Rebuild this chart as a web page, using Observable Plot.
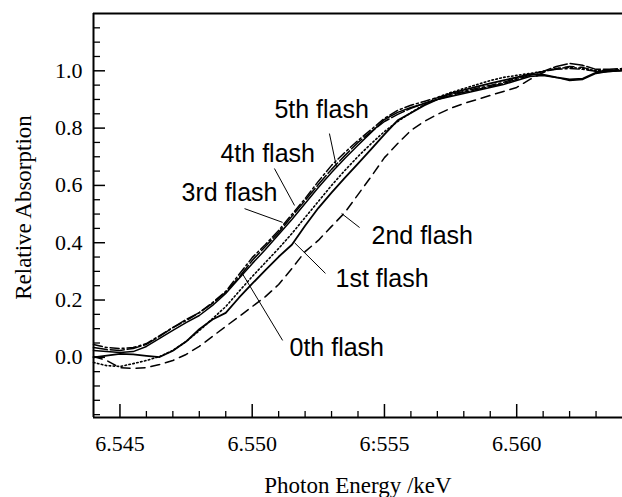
<!DOCTYPE html>
<html><head><meta charset="utf-8">
<script src="https://cdn.jsdelivr.net/npm/d3@7"></script>
<script src="https://cdn.jsdelivr.net/npm/@observablehq/plot@0.6"></script>
<style>html,body{margin:0;padding:0;background:#fff;}</style>
</head><body><div id="chart"></div>
<script>
const energy = [6.5440,6.5445,6.5450,6.5455,6.5460,6.5465,6.5470,6.5475,6.5480,6.5485,6.5490,6.5495,6.5500,6.5505,6.5510,6.5515,6.5520,6.5525,6.5530,6.5535,6.5540,6.5545,6.5550,6.5555,6.5560,6.5565,6.5570,6.5575,6.5580,6.5585,6.5590,6.5595,6.5600,6.5605,6.5610,6.5615,6.5620,6.5625,6.5630,6.5635,6.5640];
const flash0 = [0.024,0.020,0.017,0.020,0.038,0.066,0.094,0.121,0.146,0.181,0.223,0.275,0.327,0.376,0.429,0.481,0.537,0.593,0.645,0.694,0.740,0.785,0.830,0.855,0.872,0.886,0.900,0.910,0.921,0.931,0.942,0.952,0.966,0.980,0.984,0.977,0.966,0.970,0.991,0.998,1.001];
const flash1 = [0.000,0.006,0.012,0.010,0.005,0.001,0.023,0.055,0.098,0.132,0.155,0.208,0.257,0.304,0.351,0.393,0.459,0.521,0.575,0.626,0.676,0.727,0.778,0.827,0.853,0.879,0.900,0.921,0.933,0.945,0.956,0.967,0.977,0.988,0.987,0.977,0.970,0.973,0.994,0.998,1.001];
const flash2 = [0.003,-0.011,-0.036,-0.039,-0.036,-0.025,-0.011,0.010,0.038,0.073,0.108,0.142,0.177,0.212,0.254,0.310,0.369,0.408,0.457,0.505,0.568,0.631,0.697,0.746,0.792,0.823,0.848,0.869,0.886,0.900,0.914,0.928,0.942,0.970,0.994,1.008,1.015,1.012,0.998,1.001,1.005];
const flash3 = [0.045,0.034,0.031,0.034,0.048,0.076,0.104,0.128,0.156,0.191,0.230,0.289,0.348,0.394,0.443,0.499,0.554,0.614,0.670,0.715,0.757,0.795,0.834,0.862,0.880,0.893,0.907,0.918,0.928,0.939,0.949,0.960,0.974,0.988,0.998,1.005,1.008,1.005,0.998,1.001,1.005];
const flash4 = [0.034,0.027,0.024,0.031,0.045,0.073,0.104,0.132,0.156,0.188,0.227,0.279,0.338,0.387,0.436,0.492,0.547,0.603,0.656,0.704,0.750,0.788,0.823,0.848,0.869,0.886,0.900,0.914,0.925,0.935,0.945,0.956,0.970,0.984,0.998,1.015,1.026,1.019,1.005,1.005,1.008];
const flash5 = [-0.018,-0.029,-0.032,-0.022,-0.011,0.003,0.024,0.055,0.093,0.135,0.177,0.230,0.282,0.331,0.380,0.432,0.488,0.544,0.600,0.652,0.701,0.746,0.788,0.823,0.854,0.882,0.907,0.924,0.938,0.952,0.966,0.977,0.984,0.991,0.998,1.008,1.012,1.008,1.001,1.001,1.001];

const seriesNames = ["0th flash","1st flash","2nd flash","3rd flash","4th flash","5th flash"];
const seriesValues = [flash0, flash1, flash2, flash3, flash4, flash5];

// annotation anchors (data units)
const labelEnergy = [6.55141, 6.55315, 6.55451, 6.54733, 6.54880, 6.55084];
const labelAbs    = [0.006, 0.244, 0.397, 0.547, 0.680, 0.837];
const leaderE1 = [6.54963, 6.55160, 6.55338, 6.54971, 6.55084, 6.55292];
const leaderA1 = [0.292, 0.400, 0.502, 0.519, 0.659, 0.781];
const leaderE2 = [6.55115, 6.55277, 6.55406, 6.55115, 6.55160, 6.55319];
const leaderA2 = [0.059, 0.293, 0.453, 0.471, 0.530, 0.663];

const xDomain = [6.544, 6.564];
const yDomain = [-0.21, 1.2];
const xMajor = [6.545, 6.550, 6.555, 6.560];
const xMajorLabels = ["6.545", "6.550", "6:555", "6.560"];
const xMinor = [6.546,6.547,6.548,6.549,6.551,6.552,6.553,6.554,6.556,6.557,6.558,6.559,6.561,6.562,6.563];
const yMajor = [0.0, 0.2, 0.4, 0.6, 0.8, 1.0];
const yMinor = [-0.2,-0.15,-0.1,-0.05,0.05,0.1,0.15,0.25,0.3,0.35,0.45,0.5,0.55,0.65,0.7,0.75,0.85,0.9,0.95,1.05,1.1,1.15];
const yTitle = "Relative Absorption";
const xTitle = "Photon Energy /keV";

// styles per series (same order as seriesNames)
const seriesStyle = [
  {w: 1.5, dash: null},
  {w: 1.8, dash: null},
  {w: 1.5, dash: "9,6"},
  {w: 1.5, dash: "9,3,2,3"},
  {w: 1.5, dash: "14,3"},
  {w: 1.6, dash: "1.5,2.5"}
];

const rows = seriesNames.flatMap((name, s) => energy.map((e, i) => ({flash: name, energy: e, abs: seriesValues[s][i]})));
const xLabelMap = new Map(xMajor.map((v, i) => [v, xMajorLabels[i]]));

const W = 622, H = 497, mL = 93, mR = 0, mT = 13, mB = 80;
const frameW = W - mL - mR, frameH = H - mT - mB;
const serif = "'Liberation Serif','Times New Roman',serif";
const sans = "'Liberation Sans',Arial,sans-serif";

const lineMarks = seriesNames.map((name, s) => Plot.line(rows.filter(r => r.flash === name), {
  x: "energy", y: "abs", stroke: "black", strokeWidth: seriesStyle[s].w,
  strokeDasharray: seriesStyle[s].dash, strokeLinejoin: "round"
}));

const chart = Plot.plot({
  width: W, height: H,
  marginLeft: mL, marginRight: mR, marginTop: mT, marginBottom: mB,
  x: {domain: xDomain, label: null},
  y: {domain: yDomain, label: null},
  style: {fontFamily: serif, background: "white", color: "black", overflow: "visible"},
  marks: [
    Plot.axisX(xMajor, {tickSize: 0, tickPadding: 18, tickFormat: d => xLabelMap.get(d), fontSize: 22, fontFamily: serif, label: null}),
    Plot.axisY(yMajor, {tickSize: 0, tickPadding: 11, tickFormat: d3.format(".1f"), fontSize: 22, fontFamily: serif, label: null}),
    Plot.tickX(xMajor, {x: d => d, insetTop: frameH - 13, stroke: "black", strokeWidth: 1.5}),
    Plot.tickX(xMinor, {x: d => d, insetTop: frameH - 6, stroke: "black", strokeWidth: 1.3}),
    Plot.tickY(yMajor, {y: d => d, insetRight: frameW - 12, stroke: "black", strokeWidth: 1.5}),
    Plot.tickY(yMinor, {y: d => d, insetRight: frameW - 7, stroke: "black", strokeWidth: 1.3}),
    Plot.ruleX([xDomain[0]], {stroke: "black", strokeWidth: 2}),
    Plot.ruleY([yDomain[0]], {stroke: "black", strokeWidth: 2}),
    Plot.ruleY([yDomain[1]], {stroke: "black", strokeWidth: 2}),
    ...lineMarks,
    Plot.link(seriesNames, {x1: leaderE1, y1: leaderA1, x2: leaderE2, y2: leaderA2, stroke: "black", strokeWidth: 1}),
    Plot.text(seriesNames, {x: labelEnergy, y: labelAbs, text: d => d, textAnchor: "start", lineAnchor: "bottom", fontFamily: sans, fontSize: 25, fill: "black"}),
    Plot.text([yTitle], {text: d => d, x: () => xDomain[0], y: () => (yDomain[0] + yDomain[1]) / 2, dx: -70, dy: -8, rotate: -90, fontFamily: serif, fontSize: 23, fill: "black"}),
    Plot.text([xTitle], {text: d => d, frameAnchor: "bottom", dy: 75, lineAnchor: "bottom", fontFamily: serif, fontSize: 23, fill: "black"})
  ]
});
document.getElementById("chart").appendChild(chart);
</script>
</body></html>
